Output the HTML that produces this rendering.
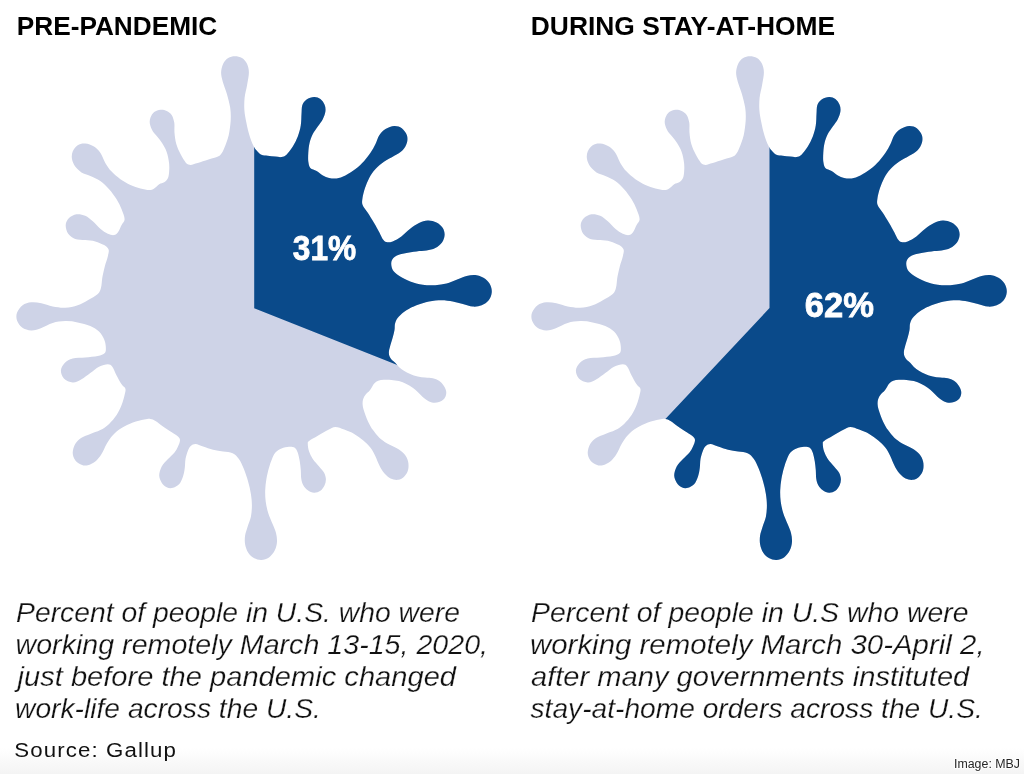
<!DOCTYPE html>
<html><head><meta charset="utf-8"><title>Remote work</title>
<style>
html,body{margin:0;padding:0;background:#fff;}
body{width:1024px;height:774px;overflow:hidden;position:relative;font-family:"Liberation Sans",sans-serif;}
svg{position:absolute;left:0;top:0;display:block}
.t{font-family:"Liberation Sans",sans-serif;font-weight:bold;font-size:25.4px;fill:#000}
.c{font-family:"Liberation Sans",sans-serif;font-style:italic;font-size:27.6px;fill:#111;stroke:#fff;stroke-width:0.25px}
.s{font-family:"Liberation Sans",sans-serif;font-size:20px;fill:#111}
.p{font-family:"Liberation Sans",sans-serif;font-weight:bold;font-size:35.5px;fill:#fff;stroke:#fff;stroke-width:0.8px}
.i{font-family:"Liberation Sans",sans-serif;font-size:12px;fill:#262626}
</style></head><body>
<svg width="1024" height="774" viewBox="0 0 1024 774">
<defs>
<linearGradient id="g" x1="0" y1="0" x2="0" y2="1"><stop offset="0" stop-color="#fff"/><stop offset="1" stop-color="#f4f4f4"/></linearGradient>
<clipPath id="cl"><path d="M234.9 56.3C232.6 56.3 230.1 56.8 228.2 58.1C226.2 59.3 224.3 61.4 223.2 63.8C222.0 66.2 221.2 69.7 221.1 72.6C221.1 75.5 221.7 77.8 222.7 81.4C223.6 84.9 225.7 89.5 226.9 93.9C228.2 98.3 229.5 103.3 230.2 107.7C230.8 112.1 230.9 115.6 230.7 120.2C230.4 124.8 229.7 130.7 228.7 135.3C227.6 139.9 225.7 144.7 224.4 147.8C223.2 151.0 222.4 152.5 221.1 154.1C219.9 155.6 219.5 156.0 216.9 157.1C214.3 158.1 209.2 159.3 205.6 160.4C202.1 161.4 198.1 162.9 195.6 163.6C193.1 164.4 192.1 165.0 190.6 164.9C189.0 164.7 187.7 164.7 186.0 162.9C184.4 161.1 182.2 157.2 180.5 154.1C178.9 151.0 177.3 147.6 176.3 144.1C175.3 140.5 174.8 136.3 174.5 132.8C174.2 129.2 174.7 125.7 174.3 122.7C173.8 119.8 173.0 117.2 171.8 115.2C170.5 113.3 168.6 111.9 166.7 111.0C164.9 110.0 162.6 109.5 160.5 109.7C158.4 109.9 155.9 110.6 154.2 112.0C152.5 113.3 151.2 115.7 150.4 117.7C149.7 119.7 149.5 121.7 149.9 124.0C150.4 126.3 151.4 129.0 152.9 131.5C154.5 134.0 157.1 136.1 159.2 139.0C161.3 142.0 163.9 145.5 165.5 149.1C167.1 152.6 168.1 156.8 168.7 160.4C169.4 163.9 169.4 167.5 169.2 170.4C169.1 173.3 168.8 175.9 168.0 177.9C167.2 179.9 165.7 181.1 164.2 182.2C162.8 183.2 160.9 183.1 159.2 184.2C157.5 185.2 155.9 187.5 154.2 188.4C152.5 189.4 151.5 189.9 149.2 189.9C146.9 189.9 143.5 189.3 140.4 188.4C137.3 187.6 133.7 186.5 130.4 184.9C127.0 183.4 123.5 181.4 120.4 179.2C117.2 176.9 114.1 174.4 111.6 171.6C109.1 168.9 107.2 166.0 105.3 162.9C103.4 159.7 102.2 155.5 100.3 152.8C98.4 150.1 96.5 148.1 94.0 146.6C91.5 145.0 88.0 143.8 85.2 143.6C82.5 143.3 79.8 144.0 77.7 145.3C75.6 146.6 73.7 149.3 72.7 151.6C71.8 153.9 71.5 156.6 72.0 159.1C72.4 161.6 73.6 164.4 75.2 166.6C76.8 168.8 79.0 170.8 81.5 172.4C84.0 173.9 87.1 174.5 90.3 175.9C93.4 177.3 97.2 178.7 100.3 180.9C103.4 183.1 106.4 186.1 109.1 189.2C111.8 192.2 114.5 195.9 116.6 199.2C118.7 202.6 120.3 205.9 121.6 209.2C122.9 212.6 124.6 216.6 124.6 219.3C124.6 221.9 122.7 222.9 121.6 225.1C120.5 227.3 119.1 230.9 117.8 232.6C116.6 234.3 115.8 234.9 114.1 235.1C112.4 235.3 110.1 234.9 107.8 233.8C105.5 232.8 102.8 230.9 100.3 228.8C97.8 226.7 95.3 223.5 92.8 221.3C90.3 219.1 88.0 217.0 85.2 215.8C82.5 214.6 79.2 213.9 76.5 214.3C73.8 214.7 70.7 216.3 69.0 218.1C67.2 219.8 65.8 222.4 65.7 225.1C65.6 227.7 66.6 231.6 68.2 233.8C69.8 236.1 72.4 237.8 75.2 238.9C78.1 239.9 81.9 239.7 85.2 240.1C88.6 240.5 92.1 240.5 95.3 241.4C98.4 242.2 101.8 243.8 104.1 245.1C106.3 246.5 107.9 247.8 108.6 249.6C109.2 251.5 108.4 253.6 107.8 256.4C107.2 259.2 105.7 262.9 104.8 266.4C103.9 270.0 102.9 274.2 102.3 277.7C101.7 281.3 101.8 285.0 101.0 287.8C100.3 290.5 100.0 291.9 97.8 294.0C95.6 296.1 91.1 298.4 87.8 300.3C84.4 302.2 81.5 304.1 77.7 305.3C74.0 306.6 69.4 307.6 65.2 307.8C61.0 308.0 56.6 307.3 52.7 306.6C48.7 305.8 44.9 304.0 41.4 303.3C37.8 302.6 34.5 302.0 31.3 302.3C28.2 302.6 24.9 303.6 22.6 305.3C20.2 307.1 18.0 310.3 17.0 312.8C16.1 315.3 16.2 317.9 17.0 320.4C17.9 322.8 19.7 325.7 22.1 327.4C24.4 329.0 28.1 330.3 31.3 330.4C34.6 330.5 37.8 329.1 41.4 327.9C44.9 326.6 48.7 324.0 52.7 322.9C56.6 321.7 61.0 321.2 65.2 321.1C69.4 321.0 73.5 321.5 77.7 322.4C81.9 323.2 86.7 324.6 90.3 326.1C93.8 327.7 96.7 329.5 99.0 331.6C101.3 333.8 102.9 336.7 104.1 339.2C105.2 341.7 105.7 344.4 105.8 346.7C105.9 349.0 106.1 351.4 104.8 352.9C103.5 354.5 101.0 355.2 97.8 356.0C94.5 356.7 89.4 357.0 85.2 357.5C81.1 357.9 76.1 357.5 72.7 358.5C69.3 359.4 66.7 361.0 64.7 363.0C62.7 365.0 61.1 367.9 60.9 370.5C60.8 373.1 62.0 376.5 63.9 378.5C65.9 380.5 69.8 382.4 72.7 382.5C75.6 382.7 78.6 380.9 81.5 379.3C84.4 377.7 87.3 375.1 90.3 373.0C93.2 370.9 96.1 368.2 99.0 366.7C102.0 365.3 105.6 364.2 107.8 364.2C110.0 364.2 110.9 364.9 112.3 366.7C113.8 368.6 115.0 372.6 116.6 375.5C118.1 378.4 120.1 382.1 121.6 384.3C123.1 386.5 124.9 387.0 125.4 388.8C125.9 390.6 125.2 392.3 124.6 395.0C124.0 397.8 122.9 401.7 121.6 405.1C120.3 408.4 118.7 412.0 116.6 415.1C114.5 418.2 111.8 421.4 109.1 423.9C106.4 426.4 103.4 428.5 100.3 430.1C97.2 431.8 93.4 432.7 90.3 433.9C87.1 435.2 84.0 436.0 81.5 437.7C79.0 439.3 76.7 441.4 75.2 443.9C73.8 446.4 72.7 450.0 72.7 452.7C72.7 455.4 73.8 458.2 75.2 460.2C76.7 462.2 79.4 463.9 81.5 464.7C83.6 465.6 85.5 465.8 87.8 465.2C90.1 464.7 93.0 463.4 95.3 461.5C97.6 459.6 99.7 456.9 101.5 454.0C103.4 451.0 104.7 447.1 106.6 443.9C108.4 440.8 110.3 437.8 112.8 435.2C115.3 432.5 118.3 430.2 121.6 428.1C124.9 426.1 129.1 424.0 132.9 422.6C136.7 421.2 141.2 420.2 144.2 419.6C147.1 419.0 148.6 418.7 150.4 418.9C152.3 419.1 153.4 419.6 155.5 420.9C157.5 422.1 160.3 424.5 163.0 426.4C165.7 428.3 169.2 430.5 171.8 432.2C174.3 433.8 176.6 435.1 178.0 436.4C179.4 437.8 180.0 438.5 180.0 440.2C180.0 441.8 179.0 444.4 178.0 446.4C177.1 448.5 175.9 450.6 174.3 452.7C172.6 454.8 170.1 456.7 168.0 459.0C165.9 461.3 163.2 463.8 161.7 466.5C160.3 469.2 159.2 472.6 159.2 475.3C159.2 478.0 160.5 480.8 161.7 482.8C163.0 484.8 164.9 486.5 166.7 487.3C168.6 488.2 170.9 488.4 173.0 487.8C175.1 487.3 177.6 485.9 179.3 484.1C180.9 482.2 182.1 479.2 183.0 476.5C184.0 473.8 184.4 470.7 184.8 467.8C185.2 464.8 185.0 461.9 185.5 459.0C186.1 456.1 187.1 452.4 188.1 450.2C189.0 448.0 189.8 446.7 191.1 445.7C192.3 444.6 193.6 443.8 195.6 443.9C197.6 444.1 200.2 445.5 203.1 446.4C206.0 447.4 209.8 448.9 213.1 449.7C216.5 450.5 219.9 450.9 223.2 451.5C226.4 452.0 230.0 452.0 232.6 453.2C235.2 454.5 237.0 456.3 238.9 459.0C240.7 461.6 242.3 465.2 243.9 469.0C245.4 472.8 247.0 477.4 248.1 481.5C249.3 485.7 250.3 490.1 250.9 494.1C251.5 498.1 251.9 501.6 251.9 505.4C251.9 509.1 251.6 513.1 250.9 516.7C250.2 520.2 248.6 523.5 247.6 526.7C246.7 529.8 245.6 532.5 245.1 535.5C244.7 538.4 244.6 541.4 245.1 544.2C245.6 547.1 246.7 550.2 248.1 552.5C249.6 554.8 251.7 556.8 253.9 558.0C256.1 559.3 258.9 560.1 261.4 560.0C263.9 559.9 266.7 559.1 269.0 557.5C271.2 555.9 273.4 553.1 274.7 550.5C276.1 547.9 276.8 544.6 277.0 541.7C277.2 538.8 276.7 535.9 276.0 532.9C275.3 530.0 274.0 527.5 272.7 524.2C271.4 520.8 269.4 516.7 268.2 512.9C267.0 509.1 266.2 505.4 265.7 501.6C265.2 497.8 265.1 494.1 265.2 490.3C265.3 486.6 265.8 482.8 266.4 479.0C267.1 475.3 268.0 471.1 269.0 467.8C269.9 464.4 270.9 461.5 272.0 459.0C273.0 456.5 273.6 454.5 275.2 452.7C276.8 451.0 279.2 449.5 281.5 448.5C283.8 447.4 286.8 446.8 289.0 446.7C291.2 446.6 293.3 446.7 294.8 447.7C296.2 448.7 297.0 450.4 297.8 452.7C298.6 455.0 299.3 458.6 299.8 461.5C300.3 464.4 300.5 467.3 300.8 470.3C301.0 473.2 300.9 476.5 301.3 479.0C301.7 481.5 302.2 483.4 303.3 485.3C304.4 487.2 306.0 489.1 307.8 490.3C309.6 491.6 312.0 492.7 314.1 492.8C316.2 492.9 318.6 492.1 320.4 490.8C322.1 489.6 323.7 487.3 324.6 485.3C325.5 483.3 326.0 481.1 325.9 479.0C325.8 477.0 325.2 474.9 324.1 472.8C323.0 470.7 321.0 468.8 319.1 466.5C317.2 464.2 314.5 461.5 312.8 459.0C311.2 456.5 309.9 454.0 309.1 451.5C308.2 449.0 307.8 445.7 307.8 443.9C307.8 442.2 307.4 442.3 309.1 440.9C310.7 439.5 314.7 437.5 317.8 435.7C321.0 433.9 324.9 431.6 327.9 430.1C330.8 428.7 332.7 427.2 335.4 427.1C338.1 427.1 341.0 428.5 344.2 429.6C347.3 430.8 351.1 432.2 354.2 433.9C357.3 435.7 360.3 437.9 363.0 440.2C365.7 442.5 368.4 445.0 370.5 447.7C372.6 450.4 374.1 453.5 375.5 456.5C377.0 459.4 377.8 462.4 379.3 465.2C380.7 468.0 382.4 471.1 384.3 473.3C386.2 475.5 388.3 477.5 390.6 478.5C392.9 479.6 395.8 480.1 398.1 479.8C400.4 479.5 402.7 478.2 404.3 476.5C406.0 474.9 407.5 472.3 408.1 469.8C408.7 467.3 408.7 464.1 408.1 461.5C407.5 458.9 406.2 456.2 404.3 454.0C402.5 451.8 399.8 450.0 396.8 448.2C393.9 446.4 389.7 444.9 386.8 443.2C383.9 441.4 381.6 439.8 379.3 437.7C377.0 435.5 374.9 432.9 373.0 430.1C371.1 427.4 369.5 424.7 368.0 421.4C366.5 418.1 364.7 413.1 363.8 410.2C362.9 407.3 362.7 405.8 362.6 404.0C362.5 402.1 362.7 400.5 363.2 399.0C363.7 397.4 364.7 395.9 365.7 394.6C366.7 393.2 368.4 392.1 369.5 390.8C370.5 389.5 371.1 388.3 372.0 387.0C372.8 385.8 373.4 384.3 374.5 383.3C375.5 382.2 376.7 381.4 378.2 380.8C379.8 380.2 381.7 379.9 383.9 379.8C386.1 379.6 388.9 379.7 391.4 379.9C393.9 380.1 396.4 380.5 398.9 381.1C401.4 381.8 404.1 382.8 406.4 383.9C408.7 385.0 410.8 386.3 412.7 387.7C414.6 389.0 416.1 390.5 417.7 392.1C419.4 393.6 421.1 395.6 422.7 397.1C424.4 398.5 426.0 399.9 427.8 400.8C429.5 401.8 431.5 402.5 433.4 402.7C435.3 402.9 437.4 402.6 439.0 402.1C440.7 401.6 442.3 400.7 443.4 399.6C444.6 398.4 445.5 396.8 445.9 395.2C446.4 393.6 446.4 391.8 445.9 390.2C445.5 388.5 444.6 386.7 443.4 385.2C442.3 383.6 440.8 381.9 439.0 380.8C437.3 379.6 435.1 378.8 432.8 378.3C430.5 377.7 427.8 377.9 425.2 377.6C422.7 377.4 420.2 377.2 417.7 376.6C415.2 376.1 412.5 375.1 410.2 374.1C407.9 373.1 405.8 371.9 403.9 370.7C402.1 369.6 400.4 368.3 398.9 367.0C397.5 365.7 396.3 364.0 395.2 362.8C394.0 361.7 393.0 361.2 392.0 360.1C391.1 359.0 390.0 357.7 389.5 356.3C389.0 355.0 388.8 353.6 388.9 351.9C389.0 350.3 389.5 348.7 390.1 346.3C390.8 343.9 391.9 340.2 392.7 337.5C393.4 334.8 394.1 332.4 394.5 330.0C395.0 327.6 394.4 325.1 395.2 322.9C395.9 320.6 397.0 318.7 398.9 316.6C400.8 314.5 403.5 312.2 406.4 310.3C409.4 308.4 412.7 306.8 416.5 305.3C420.2 303.8 424.8 302.4 429.0 301.5C433.2 300.7 437.6 300.3 441.5 300.3C445.5 300.3 449.3 300.9 452.8 301.5C456.4 302.2 459.5 303.2 462.9 304.1C466.2 304.9 469.8 306.4 472.9 306.6C476.0 306.8 479.0 306.4 481.7 305.3C484.3 304.3 487.0 302.4 488.7 300.3C490.4 298.2 491.4 295.3 491.7 292.8C492.0 290.3 491.5 287.5 490.4 285.2C489.4 283.0 487.7 280.7 485.4 279.0C483.1 277.3 479.8 275.7 476.6 275.2C473.5 274.7 470.0 275.2 466.6 276.0C463.3 276.7 459.9 278.5 456.6 279.7C453.2 281.0 450.1 282.6 446.6 283.5C443.0 284.4 439.2 285.0 435.3 285.2C431.3 285.5 426.9 285.4 422.7 284.7C418.6 284.1 414.0 282.9 410.2 281.5C406.4 280.1 402.9 278.1 400.2 276.5C397.5 274.8 395.4 273.3 393.9 271.5C392.4 269.7 391.7 267.6 391.4 265.7C391.1 263.8 391.1 261.8 391.9 260.2C392.7 258.5 394.2 256.8 396.4 255.7C398.6 254.5 401.8 253.9 405.2 253.2C408.5 252.4 412.9 251.8 416.5 251.4C420.0 251.0 423.4 251.2 426.5 250.6C429.6 250.1 432.7 249.5 435.3 248.1C437.9 246.8 440.5 244.8 442.0 242.6C443.6 240.5 444.4 237.5 444.6 235.1C444.7 232.7 444.1 230.2 442.8 228.1C441.5 226.0 439.0 223.8 436.5 222.6C434.0 221.3 430.7 220.5 427.8 220.6C424.8 220.6 421.9 221.7 419.0 223.1C416.1 224.4 413.1 226.6 410.2 228.8C407.3 231.0 404.4 234.3 401.4 236.4C398.5 238.4 395.2 240.4 392.7 241.4C390.1 242.3 388.1 242.5 386.4 242.1C384.7 241.7 383.8 240.5 382.6 238.9C381.5 237.3 380.8 235.3 379.4 232.6C377.9 229.9 375.8 225.9 373.8 222.6C371.9 219.2 369.5 215.5 367.6 212.5C365.7 209.6 363.4 207.4 362.6 205.0C361.7 202.6 362.1 200.8 362.5 198.0C362.9 195.1 363.9 191.3 365.0 187.9C366.1 184.6 367.5 181.0 369.2 177.9C371.0 174.8 373.0 171.8 375.5 169.1C378.0 166.4 381.2 163.8 384.3 161.6C387.4 159.4 391.3 157.7 394.3 155.8C397.4 154.0 400.5 152.5 402.6 150.3C404.7 148.2 406.1 145.3 406.9 142.8C407.6 140.3 407.7 137.7 406.9 135.3C406.0 132.9 403.9 129.8 401.8 128.3C399.8 126.7 397.0 125.9 394.3 126.0C391.6 126.1 388.1 127.5 385.5 129.0C383.0 130.6 380.9 132.8 379.3 135.3C377.6 137.8 377.0 141.1 375.5 144.1C374.1 147.0 372.4 150.0 370.5 152.8C368.6 155.6 366.7 158.1 364.2 160.9C361.7 163.6 358.6 166.7 355.5 169.1C352.3 171.6 348.6 173.9 345.4 175.4C342.3 176.9 339.4 178.0 336.7 178.4C333.9 178.8 331.4 178.4 329.1 177.9C326.8 177.4 324.9 176.6 322.9 175.4C320.8 174.2 318.7 172.1 316.6 170.9C314.5 169.6 311.7 169.4 310.3 167.9C308.9 166.3 308.7 164.1 308.3 161.6C308.0 159.1 308.1 156.0 308.3 152.8C308.5 149.7 308.8 145.9 309.6 142.8C310.3 139.7 311.5 136.7 312.8 134.0C314.2 131.3 316.2 129.0 317.8 126.5C319.5 124.0 321.6 121.5 322.9 119.0C324.1 116.5 325.1 113.8 325.4 111.5C325.7 109.1 325.5 106.8 324.6 104.7C323.8 102.6 322.1 100.2 320.4 98.9C318.6 97.6 316.4 96.8 314.1 96.9C311.8 97.0 308.5 98.0 306.6 99.4C304.6 100.8 303.1 102.8 302.3 105.2C301.5 107.6 301.8 110.6 301.5 114.0C301.3 117.3 301.4 121.5 300.8 125.2C300.2 129.0 299.1 133.0 297.8 136.5C296.4 140.1 294.7 143.5 292.8 146.6C290.9 149.6 288.4 153.1 286.5 154.8C284.6 156.6 283.4 156.8 281.5 157.1C279.6 157.4 277.5 156.8 275.2 156.6C272.9 156.4 270.0 156.1 267.7 155.8C265.4 155.5 263.3 155.8 261.4 154.8C259.5 153.9 257.8 151.9 256.4 150.3C255.0 148.7 254.3 147.8 253.2 145.3C252.0 142.8 250.5 139.0 249.4 135.3C248.3 131.5 247.2 126.9 246.4 122.7C245.6 118.6 244.7 114.4 244.4 110.2C244.1 106.0 244.2 101.8 244.6 97.7C245.1 93.5 246.4 89.3 247.1 85.1C247.8 81.0 248.9 76.1 248.9 72.6C248.9 69.0 248.1 66.2 247.0 63.8C245.8 61.4 244.0 59.3 242.0 58.1C240.0 56.8 237.2 56.3 234.9 56.3Z"/></clipPath>
<clipPath id="cr"><path d="M749.9 56.3C747.6 56.3 745.1 56.8 743.2 58.1C741.2 59.3 739.3 61.4 738.2 63.8C737.0 66.2 736.2 69.7 736.1 72.6C736.1 75.5 736.7 77.8 737.7 81.4C738.6 84.9 740.7 89.5 741.9 93.9C743.2 98.3 744.5 103.3 745.2 107.7C745.8 112.1 745.9 115.6 745.7 120.2C745.4 124.8 744.7 130.7 743.7 135.3C742.6 139.9 740.7 144.7 739.4 147.8C738.2 151.0 737.4 152.5 736.1 154.1C734.9 155.6 734.5 156.0 731.9 157.1C729.3 158.1 724.2 159.3 720.6 160.4C717.1 161.4 713.1 162.9 710.6 163.6C708.1 164.4 707.1 165.0 705.6 164.9C704.0 164.7 702.7 164.7 701.0 162.9C699.4 161.1 697.2 157.2 695.5 154.1C693.9 151.0 692.3 147.6 691.3 144.1C690.3 140.5 689.8 136.3 689.5 132.8C689.2 129.2 689.7 125.7 689.3 122.7C688.8 119.8 688.0 117.2 686.8 115.2C685.5 113.3 683.6 111.9 681.7 111.0C679.9 110.0 677.6 109.5 675.5 109.7C673.4 109.9 670.9 110.6 669.2 112.0C667.5 113.3 666.2 115.7 665.4 117.7C664.7 119.7 664.5 121.7 664.9 124.0C665.4 126.3 666.4 129.0 667.9 131.5C669.5 134.0 672.1 136.1 674.2 139.0C676.3 142.0 678.9 145.5 680.5 149.1C682.1 152.6 683.1 156.8 683.7 160.4C684.4 163.9 684.4 167.5 684.2 170.4C684.1 173.3 683.8 175.9 683.0 177.9C682.2 179.9 680.7 181.1 679.2 182.2C677.8 183.2 675.9 183.1 674.2 184.2C672.5 185.2 670.9 187.5 669.2 188.4C667.5 189.4 666.5 189.9 664.2 189.9C661.9 189.9 658.5 189.3 655.4 188.4C652.3 187.6 648.7 186.5 645.4 184.9C642.0 183.4 638.5 181.4 635.4 179.2C632.2 176.9 629.1 174.4 626.6 171.6C624.1 168.9 622.2 166.0 620.3 162.9C618.4 159.7 617.2 155.5 615.3 152.8C613.4 150.1 611.5 148.1 609.0 146.6C606.5 145.0 603.0 143.8 600.2 143.6C597.5 143.3 594.8 144.0 592.7 145.3C590.6 146.6 588.7 149.3 587.7 151.6C586.8 153.9 586.5 156.6 587.0 159.1C587.4 161.6 588.6 164.4 590.2 166.6C591.8 168.8 594.0 170.8 596.5 172.4C599.0 173.9 602.1 174.5 605.3 175.9C608.4 177.3 612.2 178.7 615.3 180.9C618.4 183.1 621.4 186.1 624.1 189.2C626.8 192.2 629.5 195.9 631.6 199.2C633.7 202.6 635.3 205.9 636.6 209.2C637.9 212.6 639.6 216.6 639.6 219.3C639.6 221.9 637.7 222.9 636.6 225.1C635.5 227.3 634.1 230.9 632.8 232.6C631.6 234.3 630.8 234.9 629.1 235.1C627.4 235.3 625.1 234.9 622.8 233.8C620.5 232.8 617.8 230.9 615.3 228.8C612.8 226.7 610.3 223.5 607.8 221.3C605.3 219.1 603.0 217.0 600.2 215.8C597.5 214.6 594.2 213.9 591.5 214.3C588.8 214.7 585.7 216.3 584.0 218.1C582.2 219.8 580.8 222.4 580.7 225.1C580.6 227.7 581.6 231.6 583.2 233.8C584.8 236.1 587.4 237.8 590.2 238.9C593.1 239.9 596.9 239.7 600.2 240.1C603.6 240.5 607.1 240.5 610.3 241.4C613.4 242.2 616.8 243.8 619.1 245.1C621.3 246.5 622.9 247.8 623.6 249.6C624.2 251.5 623.4 253.6 622.8 256.4C622.2 259.2 620.7 262.9 619.8 266.4C618.9 270.0 617.9 274.2 617.3 277.7C616.7 281.3 616.8 285.0 616.0 287.8C615.3 290.5 615.0 291.9 612.8 294.0C610.6 296.1 606.1 298.4 602.8 300.3C599.4 302.2 596.5 304.1 592.7 305.3C589.0 306.6 584.4 307.6 580.2 307.8C576.0 308.0 571.6 307.3 567.7 306.6C563.7 305.8 559.9 304.0 556.4 303.3C552.8 302.6 549.5 302.0 546.3 302.3C543.2 302.6 539.9 303.6 537.6 305.3C535.2 307.1 533.0 310.3 532.0 312.8C531.1 315.3 531.2 317.9 532.0 320.4C532.9 322.8 534.7 325.7 537.1 327.4C539.4 329.0 543.1 330.3 546.3 330.4C549.6 330.5 552.8 329.1 556.4 327.9C559.9 326.6 563.7 324.0 567.7 322.9C571.6 321.7 576.0 321.2 580.2 321.1C584.4 321.0 588.5 321.5 592.7 322.4C596.9 323.2 601.7 324.6 605.3 326.1C608.8 327.7 611.7 329.5 614.0 331.6C616.3 333.8 617.9 336.7 619.1 339.2C620.2 341.7 620.7 344.4 620.8 346.7C620.9 349.0 621.1 351.4 619.8 352.9C618.5 354.5 616.0 355.2 612.8 356.0C609.5 356.7 604.4 357.0 600.2 357.5C596.1 357.9 591.1 357.5 587.7 358.5C584.3 359.4 581.7 361.0 579.7 363.0C577.7 365.0 576.1 367.9 575.9 370.5C575.8 373.1 577.0 376.5 578.9 378.5C580.9 380.5 584.8 382.4 587.7 382.5C590.6 382.7 593.6 380.9 596.5 379.3C599.4 377.7 602.3 375.1 605.3 373.0C608.2 370.9 611.1 368.2 614.0 366.7C617.0 365.3 620.6 364.2 622.8 364.2C625.0 364.2 625.9 364.9 627.3 366.7C628.8 368.6 630.0 372.6 631.6 375.5C633.1 378.4 635.1 382.1 636.6 384.3C638.1 386.5 639.9 387.0 640.4 388.8C640.9 390.6 640.2 392.3 639.6 395.0C639.0 397.8 637.9 401.7 636.6 405.1C635.3 408.4 633.7 412.0 631.6 415.1C629.5 418.2 626.8 421.4 624.1 423.9C621.4 426.4 618.4 428.5 615.3 430.1C612.2 431.8 608.4 432.7 605.3 433.9C602.1 435.2 599.0 436.0 596.5 437.7C594.0 439.3 591.7 441.4 590.2 443.9C588.8 446.4 587.7 450.0 587.7 452.7C587.7 455.4 588.8 458.2 590.2 460.2C591.7 462.2 594.4 463.9 596.5 464.7C598.6 465.6 600.5 465.8 602.8 465.2C605.1 464.7 608.0 463.4 610.3 461.5C612.6 459.6 614.7 456.9 616.5 454.0C618.4 451.0 619.7 447.1 621.6 443.9C623.4 440.8 625.3 437.8 627.8 435.2C630.3 432.5 633.3 430.2 636.6 428.1C639.9 426.1 644.1 424.0 647.9 422.6C651.7 421.2 656.2 420.2 659.2 419.6C662.1 419.0 663.6 418.7 665.4 418.9C667.3 419.1 668.4 419.6 670.5 420.9C672.5 422.1 675.3 424.5 678.0 426.4C680.7 428.3 684.2 430.5 686.8 432.2C689.3 433.8 691.6 435.1 693.0 436.4C694.4 437.8 695.0 438.5 695.0 440.2C695.0 441.8 694.0 444.4 693.0 446.4C692.1 448.5 690.9 450.6 689.3 452.7C687.6 454.8 685.1 456.7 683.0 459.0C680.9 461.3 678.2 463.8 676.7 466.5C675.3 469.2 674.2 472.6 674.2 475.3C674.2 478.0 675.5 480.8 676.7 482.8C678.0 484.8 679.9 486.5 681.7 487.3C683.6 488.2 685.9 488.4 688.0 487.8C690.1 487.3 692.6 485.9 694.3 484.1C695.9 482.2 697.1 479.2 698.0 476.5C699.0 473.8 699.4 470.7 699.8 467.8C700.2 464.8 700.0 461.9 700.5 459.0C701.1 456.1 702.1 452.4 703.1 450.2C704.0 448.0 704.8 446.7 706.1 445.7C707.3 444.6 708.6 443.8 710.6 443.9C712.6 444.1 715.2 445.5 718.1 446.4C721.0 447.4 724.8 448.9 728.1 449.7C731.5 450.5 734.9 450.9 738.2 451.5C741.4 452.0 745.0 452.0 747.6 453.2C750.2 454.5 752.0 456.3 753.9 459.0C755.7 461.6 757.3 465.2 758.9 469.0C760.4 472.8 762.0 477.4 763.1 481.5C764.3 485.7 765.3 490.1 765.9 494.1C766.5 498.1 766.9 501.6 766.9 505.4C766.9 509.1 766.6 513.1 765.9 516.7C765.2 520.2 763.6 523.5 762.6 526.7C761.7 529.8 760.6 532.5 760.1 535.5C759.7 538.4 759.6 541.4 760.1 544.2C760.6 547.1 761.7 550.2 763.1 552.5C764.6 554.8 766.7 556.8 768.9 558.0C771.1 559.3 773.9 560.1 776.4 560.0C778.9 559.9 781.7 559.1 784.0 557.5C786.2 555.9 788.4 553.1 789.7 550.5C791.1 547.9 791.8 544.6 792.0 541.7C792.2 538.8 791.7 535.9 791.0 532.9C790.3 530.0 789.0 527.5 787.7 524.2C786.4 520.8 784.4 516.7 783.2 512.9C782.0 509.1 781.2 505.4 780.7 501.6C780.2 497.8 780.1 494.1 780.2 490.3C780.3 486.6 780.8 482.8 781.4 479.0C782.1 475.3 783.0 471.1 784.0 467.8C784.9 464.4 785.9 461.5 787.0 459.0C788.0 456.5 788.6 454.5 790.2 452.7C791.8 451.0 794.2 449.5 796.5 448.5C798.8 447.4 801.8 446.8 804.0 446.7C806.2 446.6 808.3 446.7 809.8 447.7C811.2 448.7 812.0 450.4 812.8 452.7C813.6 455.0 814.3 458.6 814.8 461.5C815.3 464.4 815.5 467.3 815.8 470.3C816.0 473.2 815.9 476.5 816.3 479.0C816.7 481.5 817.2 483.4 818.3 485.3C819.4 487.2 821.0 489.1 822.8 490.3C824.6 491.6 827.0 492.7 829.1 492.8C831.2 492.9 833.6 492.1 835.4 490.8C837.1 489.6 838.7 487.3 839.6 485.3C840.5 483.3 841.0 481.1 840.9 479.0C840.8 477.0 840.2 474.9 839.1 472.8C838.0 470.7 836.0 468.8 834.1 466.5C832.2 464.2 829.5 461.5 827.8 459.0C826.2 456.5 824.9 454.0 824.1 451.5C823.2 449.0 822.8 445.7 822.8 443.9C822.8 442.2 822.4 442.3 824.1 440.9C825.7 439.5 829.7 437.5 832.8 435.7C836.0 433.9 839.9 431.6 842.9 430.1C845.8 428.7 847.7 427.2 850.4 427.1C853.1 427.1 856.0 428.5 859.2 429.6C862.3 430.8 866.1 432.2 869.2 433.9C872.3 435.7 875.3 437.9 878.0 440.2C880.7 442.5 883.4 445.0 885.5 447.7C887.6 450.4 889.1 453.5 890.5 456.5C892.0 459.4 892.8 462.4 894.3 465.2C895.7 468.0 897.4 471.1 899.3 473.3C901.2 475.5 903.3 477.5 905.6 478.5C907.9 479.6 910.8 480.1 913.1 479.8C915.4 479.5 917.7 478.2 919.3 476.5C921.0 474.9 922.5 472.3 923.1 469.8C923.7 467.3 923.7 464.1 923.1 461.5C922.5 458.9 921.2 456.2 919.3 454.0C917.5 451.8 914.8 450.0 911.8 448.2C908.9 446.4 904.7 444.9 901.8 443.2C898.9 441.4 896.6 439.8 894.3 437.7C892.0 435.5 889.9 432.9 888.0 430.1C886.1 427.4 884.5 424.7 883.0 421.4C881.5 418.1 879.7 413.1 878.8 410.2C877.9 407.3 877.7 405.8 877.6 404.0C877.5 402.1 877.7 400.5 878.2 399.0C878.7 397.4 879.7 395.9 880.7 394.6C881.7 393.2 883.4 392.1 884.5 390.8C885.5 389.5 886.1 388.3 887.0 387.0C887.8 385.8 888.4 384.3 889.5 383.3C890.5 382.2 891.7 381.4 893.2 380.8C894.8 380.2 896.7 379.9 898.9 379.8C901.1 379.6 903.9 379.7 906.4 379.9C908.9 380.1 911.4 380.5 913.9 381.1C916.4 381.8 919.1 382.8 921.4 383.9C923.7 385.0 925.8 386.3 927.7 387.7C929.6 389.0 931.1 390.5 932.7 392.1C934.4 393.6 936.1 395.6 937.7 397.1C939.4 398.5 941.0 399.9 942.8 400.8C944.5 401.8 946.5 402.5 948.4 402.7C950.3 402.9 952.4 402.6 954.0 402.1C955.7 401.6 957.3 400.7 958.4 399.6C959.6 398.4 960.5 396.8 960.9 395.2C961.4 393.6 961.4 391.8 960.9 390.2C960.5 388.5 959.6 386.7 958.4 385.2C957.3 383.6 955.8 381.9 954.0 380.8C952.3 379.6 950.1 378.8 947.8 378.3C945.5 377.7 942.8 377.9 940.2 377.6C937.7 377.4 935.2 377.2 932.7 376.6C930.2 376.1 927.5 375.1 925.2 374.1C922.9 373.1 920.8 371.9 918.9 370.7C917.1 369.6 915.4 368.3 913.9 367.0C912.5 365.7 911.3 364.0 910.2 362.8C909.0 361.7 908.0 361.2 907.0 360.1C906.1 359.0 905.0 357.7 904.5 356.3C904.0 355.0 903.8 353.6 903.9 351.9C904.0 350.3 904.5 348.7 905.1 346.3C905.8 343.9 906.9 340.2 907.7 337.5C908.4 334.8 909.1 332.4 909.5 330.0C910.0 327.6 909.4 325.1 910.2 322.9C910.9 320.6 912.0 318.7 913.9 316.6C915.8 314.5 918.5 312.2 921.4 310.3C924.4 308.4 927.7 306.8 931.5 305.3C935.2 303.8 939.8 302.4 944.0 301.5C948.2 300.7 952.6 300.3 956.5 300.3C960.5 300.3 964.3 300.9 967.8 301.5C971.4 302.2 974.5 303.2 977.9 304.1C981.2 304.9 984.8 306.4 987.9 306.6C991.0 306.8 994.0 306.4 996.7 305.3C999.3 304.3 1002.0 302.4 1003.7 300.3C1005.4 298.2 1006.4 295.3 1006.7 292.8C1007.0 290.3 1006.5 287.5 1005.4 285.2C1004.4 283.0 1002.7 280.7 1000.4 279.0C998.1 277.3 994.8 275.7 991.6 275.2C988.5 274.7 985.0 275.2 981.6 276.0C978.3 276.7 974.9 278.5 971.6 279.7C968.2 281.0 965.1 282.6 961.6 283.5C958.0 284.4 954.2 285.0 950.3 285.2C946.3 285.5 941.9 285.4 937.7 284.7C933.6 284.1 929.0 282.9 925.2 281.5C921.4 280.1 917.9 278.1 915.2 276.5C912.5 274.8 910.4 273.3 908.9 271.5C907.4 269.7 906.7 267.6 906.4 265.7C906.1 263.8 906.1 261.8 906.9 260.2C907.7 258.5 909.2 256.8 911.4 255.7C913.6 254.5 916.8 253.9 920.2 253.2C923.5 252.4 927.9 251.8 931.5 251.4C935.0 251.0 938.4 251.2 941.5 250.6C944.6 250.1 947.7 249.5 950.3 248.1C952.9 246.8 955.5 244.8 957.0 242.6C958.6 240.5 959.4 237.5 959.6 235.1C959.7 232.7 959.1 230.2 957.8 228.1C956.5 226.0 954.0 223.8 951.5 222.6C949.0 221.3 945.7 220.5 942.8 220.6C939.8 220.6 936.9 221.7 934.0 223.1C931.1 224.4 928.1 226.6 925.2 228.8C922.3 231.0 919.4 234.3 916.4 236.4C913.5 238.4 910.2 240.4 907.7 241.4C905.1 242.3 903.1 242.5 901.4 242.1C899.7 241.7 898.8 240.5 897.6 238.9C896.5 237.3 895.8 235.3 894.4 232.6C892.9 229.9 890.8 225.9 888.8 222.6C886.9 219.2 884.5 215.5 882.6 212.5C880.7 209.6 878.4 207.4 877.6 205.0C876.7 202.6 877.1 200.8 877.5 198.0C877.9 195.1 878.9 191.3 880.0 187.9C881.1 184.6 882.5 181.0 884.2 177.9C886.0 174.8 888.0 171.8 890.5 169.1C893.0 166.4 896.2 163.8 899.3 161.6C902.4 159.4 906.3 157.7 909.3 155.8C912.4 154.0 915.5 152.5 917.6 150.3C919.7 148.2 921.1 145.3 921.9 142.8C922.6 140.3 922.7 137.7 921.9 135.3C921.0 132.9 918.9 129.8 916.8 128.3C914.8 126.7 912.0 125.9 909.3 126.0C906.6 126.1 903.1 127.5 900.5 129.0C898.0 130.6 895.9 132.8 894.3 135.3C892.6 137.8 892.0 141.1 890.5 144.1C889.1 147.0 887.4 150.0 885.5 152.8C883.6 155.6 881.7 158.1 879.2 160.9C876.7 163.6 873.6 166.7 870.5 169.1C867.3 171.6 863.6 173.9 860.4 175.4C857.3 176.9 854.4 178.0 851.7 178.4C848.9 178.8 846.4 178.4 844.1 177.9C841.8 177.4 839.9 176.6 837.9 175.4C835.8 174.2 833.7 172.1 831.6 170.9C829.5 169.6 826.7 169.4 825.3 167.9C823.9 166.3 823.7 164.1 823.3 161.6C823.0 159.1 823.1 156.0 823.3 152.8C823.5 149.7 823.8 145.9 824.6 142.8C825.3 139.7 826.5 136.7 827.8 134.0C829.2 131.3 831.2 129.0 832.8 126.5C834.5 124.0 836.6 121.5 837.9 119.0C839.1 116.5 840.1 113.8 840.4 111.5C840.7 109.1 840.5 106.8 839.6 104.7C838.8 102.6 837.1 100.2 835.4 98.9C833.6 97.6 831.4 96.8 829.1 96.9C826.8 97.0 823.5 98.0 821.6 99.4C819.6 100.8 818.1 102.8 817.3 105.2C816.5 107.6 816.8 110.6 816.5 114.0C816.3 117.3 816.4 121.5 815.8 125.2C815.2 129.0 814.1 133.0 812.8 136.5C811.4 140.1 809.7 143.5 807.8 146.6C805.9 149.6 803.4 153.1 801.5 154.8C799.6 156.6 798.4 156.8 796.5 157.1C794.6 157.4 792.5 156.8 790.2 156.6C787.9 156.4 785.0 156.1 782.7 155.8C780.4 155.5 778.3 155.8 776.4 154.8C774.5 153.9 772.8 151.9 771.4 150.3C770.0 148.7 769.3 147.8 768.2 145.3C767.0 142.8 765.5 139.0 764.4 135.3C763.3 131.5 762.2 126.9 761.4 122.7C760.6 118.6 759.7 114.4 759.4 110.2C759.1 106.0 759.2 101.8 759.6 97.7C760.1 93.5 761.4 89.3 762.1 85.1C762.8 81.0 763.9 76.1 763.9 72.6C763.9 69.0 763.1 66.2 762.0 63.8C760.8 61.4 759.0 59.3 757.0 58.1C755.0 56.8 752.2 56.3 749.9 56.3Z"/></clipPath>
</defs>
<rect x="0" y="748" width="1024" height="26" fill="url(#g)"/>
<path d="M234.9 56.3C232.6 56.3 230.1 56.8 228.2 58.1C226.2 59.3 224.3 61.4 223.2 63.8C222.0 66.2 221.2 69.7 221.1 72.6C221.1 75.5 221.7 77.8 222.7 81.4C223.6 84.9 225.7 89.5 226.9 93.9C228.2 98.3 229.5 103.3 230.2 107.7C230.8 112.1 230.9 115.6 230.7 120.2C230.4 124.8 229.7 130.7 228.7 135.3C227.6 139.9 225.7 144.7 224.4 147.8C223.2 151.0 222.4 152.5 221.1 154.1C219.9 155.6 219.5 156.0 216.9 157.1C214.3 158.1 209.2 159.3 205.6 160.4C202.1 161.4 198.1 162.9 195.6 163.6C193.1 164.4 192.1 165.0 190.6 164.9C189.0 164.7 187.7 164.7 186.0 162.9C184.4 161.1 182.2 157.2 180.5 154.1C178.9 151.0 177.3 147.6 176.3 144.1C175.3 140.5 174.8 136.3 174.5 132.8C174.2 129.2 174.7 125.7 174.3 122.7C173.8 119.8 173.0 117.2 171.8 115.2C170.5 113.3 168.6 111.9 166.7 111.0C164.9 110.0 162.6 109.5 160.5 109.7C158.4 109.9 155.9 110.6 154.2 112.0C152.5 113.3 151.2 115.7 150.4 117.7C149.7 119.7 149.5 121.7 149.9 124.0C150.4 126.3 151.4 129.0 152.9 131.5C154.5 134.0 157.1 136.1 159.2 139.0C161.3 142.0 163.9 145.5 165.5 149.1C167.1 152.6 168.1 156.8 168.7 160.4C169.4 163.9 169.4 167.5 169.2 170.4C169.1 173.3 168.8 175.9 168.0 177.9C167.2 179.9 165.7 181.1 164.2 182.2C162.8 183.2 160.9 183.1 159.2 184.2C157.5 185.2 155.9 187.5 154.2 188.4C152.5 189.4 151.5 189.9 149.2 189.9C146.9 189.9 143.5 189.3 140.4 188.4C137.3 187.6 133.7 186.5 130.4 184.9C127.0 183.4 123.5 181.4 120.4 179.2C117.2 176.9 114.1 174.4 111.6 171.6C109.1 168.9 107.2 166.0 105.3 162.9C103.4 159.7 102.2 155.5 100.3 152.8C98.4 150.1 96.5 148.1 94.0 146.6C91.5 145.0 88.0 143.8 85.2 143.6C82.5 143.3 79.8 144.0 77.7 145.3C75.6 146.6 73.7 149.3 72.7 151.6C71.8 153.9 71.5 156.6 72.0 159.1C72.4 161.6 73.6 164.4 75.2 166.6C76.8 168.8 79.0 170.8 81.5 172.4C84.0 173.9 87.1 174.5 90.3 175.9C93.4 177.3 97.2 178.7 100.3 180.9C103.4 183.1 106.4 186.1 109.1 189.2C111.8 192.2 114.5 195.9 116.6 199.2C118.7 202.6 120.3 205.9 121.6 209.2C122.9 212.6 124.6 216.6 124.6 219.3C124.6 221.9 122.7 222.9 121.6 225.1C120.5 227.3 119.1 230.9 117.8 232.6C116.6 234.3 115.8 234.9 114.1 235.1C112.4 235.3 110.1 234.9 107.8 233.8C105.5 232.8 102.8 230.9 100.3 228.8C97.8 226.7 95.3 223.5 92.8 221.3C90.3 219.1 88.0 217.0 85.2 215.8C82.5 214.6 79.2 213.9 76.5 214.3C73.8 214.7 70.7 216.3 69.0 218.1C67.2 219.8 65.8 222.4 65.7 225.1C65.6 227.7 66.6 231.6 68.2 233.8C69.8 236.1 72.4 237.8 75.2 238.9C78.1 239.9 81.9 239.7 85.2 240.1C88.6 240.5 92.1 240.5 95.3 241.4C98.4 242.2 101.8 243.8 104.1 245.1C106.3 246.5 107.9 247.8 108.6 249.6C109.2 251.5 108.4 253.6 107.8 256.4C107.2 259.2 105.7 262.9 104.8 266.4C103.9 270.0 102.9 274.2 102.3 277.7C101.7 281.3 101.8 285.0 101.0 287.8C100.3 290.5 100.0 291.9 97.8 294.0C95.6 296.1 91.1 298.4 87.8 300.3C84.4 302.2 81.5 304.1 77.7 305.3C74.0 306.6 69.4 307.6 65.2 307.8C61.0 308.0 56.6 307.3 52.7 306.6C48.7 305.8 44.9 304.0 41.4 303.3C37.8 302.6 34.5 302.0 31.3 302.3C28.2 302.6 24.9 303.6 22.6 305.3C20.2 307.1 18.0 310.3 17.0 312.8C16.1 315.3 16.2 317.9 17.0 320.4C17.9 322.8 19.7 325.7 22.1 327.4C24.4 329.0 28.1 330.3 31.3 330.4C34.6 330.5 37.8 329.1 41.4 327.9C44.9 326.6 48.7 324.0 52.7 322.9C56.6 321.7 61.0 321.2 65.2 321.1C69.4 321.0 73.5 321.5 77.7 322.4C81.9 323.2 86.7 324.6 90.3 326.1C93.8 327.7 96.7 329.5 99.0 331.6C101.3 333.8 102.9 336.7 104.1 339.2C105.2 341.7 105.7 344.4 105.8 346.7C105.9 349.0 106.1 351.4 104.8 352.9C103.5 354.5 101.0 355.2 97.8 356.0C94.5 356.7 89.4 357.0 85.2 357.5C81.1 357.9 76.1 357.5 72.7 358.5C69.3 359.4 66.7 361.0 64.7 363.0C62.7 365.0 61.1 367.9 60.9 370.5C60.8 373.1 62.0 376.5 63.9 378.5C65.9 380.5 69.8 382.4 72.7 382.5C75.6 382.7 78.6 380.9 81.5 379.3C84.4 377.7 87.3 375.1 90.3 373.0C93.2 370.9 96.1 368.2 99.0 366.7C102.0 365.3 105.6 364.2 107.8 364.2C110.0 364.2 110.9 364.9 112.3 366.7C113.8 368.6 115.0 372.6 116.6 375.5C118.1 378.4 120.1 382.1 121.6 384.3C123.1 386.5 124.9 387.0 125.4 388.8C125.9 390.6 125.2 392.3 124.6 395.0C124.0 397.8 122.9 401.7 121.6 405.1C120.3 408.4 118.7 412.0 116.6 415.1C114.5 418.2 111.8 421.4 109.1 423.9C106.4 426.4 103.4 428.5 100.3 430.1C97.2 431.8 93.4 432.7 90.3 433.9C87.1 435.2 84.0 436.0 81.5 437.7C79.0 439.3 76.7 441.4 75.2 443.9C73.8 446.4 72.7 450.0 72.7 452.7C72.7 455.4 73.8 458.2 75.2 460.2C76.7 462.2 79.4 463.9 81.5 464.7C83.6 465.6 85.5 465.8 87.8 465.2C90.1 464.7 93.0 463.4 95.3 461.5C97.6 459.6 99.7 456.9 101.5 454.0C103.4 451.0 104.7 447.1 106.6 443.9C108.4 440.8 110.3 437.8 112.8 435.2C115.3 432.5 118.3 430.2 121.6 428.1C124.9 426.1 129.1 424.0 132.9 422.6C136.7 421.2 141.2 420.2 144.2 419.6C147.1 419.0 148.6 418.7 150.4 418.9C152.3 419.1 153.4 419.6 155.5 420.9C157.5 422.1 160.3 424.5 163.0 426.4C165.7 428.3 169.2 430.5 171.8 432.2C174.3 433.8 176.6 435.1 178.0 436.4C179.4 437.8 180.0 438.5 180.0 440.2C180.0 441.8 179.0 444.4 178.0 446.4C177.1 448.5 175.9 450.6 174.3 452.7C172.6 454.8 170.1 456.7 168.0 459.0C165.9 461.3 163.2 463.8 161.7 466.5C160.3 469.2 159.2 472.6 159.2 475.3C159.2 478.0 160.5 480.8 161.7 482.8C163.0 484.8 164.9 486.5 166.7 487.3C168.6 488.2 170.9 488.4 173.0 487.8C175.1 487.3 177.6 485.9 179.3 484.1C180.9 482.2 182.1 479.2 183.0 476.5C184.0 473.8 184.4 470.7 184.8 467.8C185.2 464.8 185.0 461.9 185.5 459.0C186.1 456.1 187.1 452.4 188.1 450.2C189.0 448.0 189.8 446.7 191.1 445.7C192.3 444.6 193.6 443.8 195.6 443.9C197.6 444.1 200.2 445.5 203.1 446.4C206.0 447.4 209.8 448.9 213.1 449.7C216.5 450.5 219.9 450.9 223.2 451.5C226.4 452.0 230.0 452.0 232.6 453.2C235.2 454.5 237.0 456.3 238.9 459.0C240.7 461.6 242.3 465.2 243.9 469.0C245.4 472.8 247.0 477.4 248.1 481.5C249.3 485.7 250.3 490.1 250.9 494.1C251.5 498.1 251.9 501.6 251.9 505.4C251.9 509.1 251.6 513.1 250.9 516.7C250.2 520.2 248.6 523.5 247.6 526.7C246.7 529.8 245.6 532.5 245.1 535.5C244.7 538.4 244.6 541.4 245.1 544.2C245.6 547.1 246.7 550.2 248.1 552.5C249.6 554.8 251.7 556.8 253.9 558.0C256.1 559.3 258.9 560.1 261.4 560.0C263.9 559.9 266.7 559.1 269.0 557.5C271.2 555.9 273.4 553.1 274.7 550.5C276.1 547.9 276.8 544.6 277.0 541.7C277.2 538.8 276.7 535.9 276.0 532.9C275.3 530.0 274.0 527.5 272.7 524.2C271.4 520.8 269.4 516.7 268.2 512.9C267.0 509.1 266.2 505.4 265.7 501.6C265.2 497.8 265.1 494.1 265.2 490.3C265.3 486.6 265.8 482.8 266.4 479.0C267.1 475.3 268.0 471.1 269.0 467.8C269.9 464.4 270.9 461.5 272.0 459.0C273.0 456.5 273.6 454.5 275.2 452.7C276.8 451.0 279.2 449.5 281.5 448.5C283.8 447.4 286.8 446.8 289.0 446.7C291.2 446.6 293.3 446.7 294.8 447.7C296.2 448.7 297.0 450.4 297.8 452.7C298.6 455.0 299.3 458.6 299.8 461.5C300.3 464.4 300.5 467.3 300.8 470.3C301.0 473.2 300.9 476.5 301.3 479.0C301.7 481.5 302.2 483.4 303.3 485.3C304.4 487.2 306.0 489.1 307.8 490.3C309.6 491.6 312.0 492.7 314.1 492.8C316.2 492.9 318.6 492.1 320.4 490.8C322.1 489.6 323.7 487.3 324.6 485.3C325.5 483.3 326.0 481.1 325.9 479.0C325.8 477.0 325.2 474.9 324.1 472.8C323.0 470.7 321.0 468.8 319.1 466.5C317.2 464.2 314.5 461.5 312.8 459.0C311.2 456.5 309.9 454.0 309.1 451.5C308.2 449.0 307.8 445.7 307.8 443.9C307.8 442.2 307.4 442.3 309.1 440.9C310.7 439.5 314.7 437.5 317.8 435.7C321.0 433.9 324.9 431.6 327.9 430.1C330.8 428.7 332.7 427.2 335.4 427.1C338.1 427.1 341.0 428.5 344.2 429.6C347.3 430.8 351.1 432.2 354.2 433.9C357.3 435.7 360.3 437.9 363.0 440.2C365.7 442.5 368.4 445.0 370.5 447.7C372.6 450.4 374.1 453.5 375.5 456.5C377.0 459.4 377.8 462.4 379.3 465.2C380.7 468.0 382.4 471.1 384.3 473.3C386.2 475.5 388.3 477.5 390.6 478.5C392.9 479.6 395.8 480.1 398.1 479.8C400.4 479.5 402.7 478.2 404.3 476.5C406.0 474.9 407.5 472.3 408.1 469.8C408.7 467.3 408.7 464.1 408.1 461.5C407.5 458.9 406.2 456.2 404.3 454.0C402.5 451.8 399.8 450.0 396.8 448.2C393.9 446.4 389.7 444.9 386.8 443.2C383.9 441.4 381.6 439.8 379.3 437.7C377.0 435.5 374.9 432.9 373.0 430.1C371.1 427.4 369.5 424.7 368.0 421.4C366.5 418.1 364.7 413.1 363.8 410.2C362.9 407.3 362.7 405.8 362.6 404.0C362.5 402.1 362.7 400.5 363.2 399.0C363.7 397.4 364.7 395.9 365.7 394.6C366.7 393.2 368.4 392.1 369.5 390.8C370.5 389.5 371.1 388.3 372.0 387.0C372.8 385.8 373.4 384.3 374.5 383.3C375.5 382.2 376.7 381.4 378.2 380.8C379.8 380.2 381.7 379.9 383.9 379.8C386.1 379.6 388.9 379.7 391.4 379.9C393.9 380.1 396.4 380.5 398.9 381.1C401.4 381.8 404.1 382.8 406.4 383.9C408.7 385.0 410.8 386.3 412.7 387.7C414.6 389.0 416.1 390.5 417.7 392.1C419.4 393.6 421.1 395.6 422.7 397.1C424.4 398.5 426.0 399.9 427.8 400.8C429.5 401.8 431.5 402.5 433.4 402.7C435.3 402.9 437.4 402.6 439.0 402.1C440.7 401.6 442.3 400.7 443.4 399.6C444.6 398.4 445.5 396.8 445.9 395.2C446.4 393.6 446.4 391.8 445.9 390.2C445.5 388.5 444.6 386.7 443.4 385.2C442.3 383.6 440.8 381.9 439.0 380.8C437.3 379.6 435.1 378.8 432.8 378.3C430.5 377.7 427.8 377.9 425.2 377.6C422.7 377.4 420.2 377.2 417.7 376.6C415.2 376.1 412.5 375.1 410.2 374.1C407.9 373.1 405.8 371.9 403.9 370.7C402.1 369.6 400.4 368.3 398.9 367.0C397.5 365.7 396.3 364.0 395.2 362.8C394.0 361.7 393.0 361.2 392.0 360.1C391.1 359.0 390.0 357.7 389.5 356.3C389.0 355.0 388.8 353.6 388.9 351.9C389.0 350.3 389.5 348.7 390.1 346.3C390.8 343.9 391.9 340.2 392.7 337.5C393.4 334.8 394.1 332.4 394.5 330.0C395.0 327.6 394.4 325.1 395.2 322.9C395.9 320.6 397.0 318.7 398.9 316.6C400.8 314.5 403.5 312.2 406.4 310.3C409.4 308.4 412.7 306.8 416.5 305.3C420.2 303.8 424.8 302.4 429.0 301.5C433.2 300.7 437.6 300.3 441.5 300.3C445.5 300.3 449.3 300.9 452.8 301.5C456.4 302.2 459.5 303.2 462.9 304.1C466.2 304.9 469.8 306.4 472.9 306.6C476.0 306.8 479.0 306.4 481.7 305.3C484.3 304.3 487.0 302.4 488.7 300.3C490.4 298.2 491.4 295.3 491.7 292.8C492.0 290.3 491.5 287.5 490.4 285.2C489.4 283.0 487.7 280.7 485.4 279.0C483.1 277.3 479.8 275.7 476.6 275.2C473.5 274.7 470.0 275.2 466.6 276.0C463.3 276.7 459.9 278.5 456.6 279.7C453.2 281.0 450.1 282.6 446.6 283.5C443.0 284.4 439.2 285.0 435.3 285.2C431.3 285.5 426.9 285.4 422.7 284.7C418.6 284.1 414.0 282.9 410.2 281.5C406.4 280.1 402.9 278.1 400.2 276.5C397.5 274.8 395.4 273.3 393.9 271.5C392.4 269.7 391.7 267.6 391.4 265.7C391.1 263.8 391.1 261.8 391.9 260.2C392.7 258.5 394.2 256.8 396.4 255.7C398.6 254.5 401.8 253.9 405.2 253.2C408.5 252.4 412.9 251.8 416.5 251.4C420.0 251.0 423.4 251.2 426.5 250.6C429.6 250.1 432.7 249.5 435.3 248.1C437.9 246.8 440.5 244.8 442.0 242.6C443.6 240.5 444.4 237.5 444.6 235.1C444.7 232.7 444.1 230.2 442.8 228.1C441.5 226.0 439.0 223.8 436.5 222.6C434.0 221.3 430.7 220.5 427.8 220.6C424.8 220.6 421.9 221.7 419.0 223.1C416.1 224.4 413.1 226.6 410.2 228.8C407.3 231.0 404.4 234.3 401.4 236.4C398.5 238.4 395.2 240.4 392.7 241.4C390.1 242.3 388.1 242.5 386.4 242.1C384.7 241.7 383.8 240.5 382.6 238.9C381.5 237.3 380.8 235.3 379.4 232.6C377.9 229.9 375.8 225.9 373.8 222.6C371.9 219.2 369.5 215.5 367.6 212.5C365.7 209.6 363.4 207.4 362.6 205.0C361.7 202.6 362.1 200.8 362.5 198.0C362.9 195.1 363.9 191.3 365.0 187.9C366.1 184.6 367.5 181.0 369.2 177.9C371.0 174.8 373.0 171.8 375.5 169.1C378.0 166.4 381.2 163.8 384.3 161.6C387.4 159.4 391.3 157.7 394.3 155.8C397.4 154.0 400.5 152.5 402.6 150.3C404.7 148.2 406.1 145.3 406.9 142.8C407.6 140.3 407.7 137.7 406.9 135.3C406.0 132.9 403.9 129.8 401.8 128.3C399.8 126.7 397.0 125.9 394.3 126.0C391.6 126.1 388.1 127.5 385.5 129.0C383.0 130.6 380.9 132.8 379.3 135.3C377.6 137.8 377.0 141.1 375.5 144.1C374.1 147.0 372.4 150.0 370.5 152.8C368.6 155.6 366.7 158.1 364.2 160.9C361.7 163.6 358.6 166.7 355.5 169.1C352.3 171.6 348.6 173.9 345.4 175.4C342.3 176.9 339.4 178.0 336.7 178.4C333.9 178.8 331.4 178.4 329.1 177.9C326.8 177.4 324.9 176.6 322.9 175.4C320.8 174.2 318.7 172.1 316.6 170.9C314.5 169.6 311.7 169.4 310.3 167.9C308.9 166.3 308.7 164.1 308.3 161.6C308.0 159.1 308.1 156.0 308.3 152.8C308.5 149.7 308.8 145.9 309.6 142.8C310.3 139.7 311.5 136.7 312.8 134.0C314.2 131.3 316.2 129.0 317.8 126.5C319.5 124.0 321.6 121.5 322.9 119.0C324.1 116.5 325.1 113.8 325.4 111.5C325.7 109.1 325.5 106.8 324.6 104.7C323.8 102.6 322.1 100.2 320.4 98.9C318.6 97.6 316.4 96.8 314.1 96.9C311.8 97.0 308.5 98.0 306.6 99.4C304.6 100.8 303.1 102.8 302.3 105.2C301.5 107.6 301.8 110.6 301.5 114.0C301.3 117.3 301.4 121.5 300.8 125.2C300.2 129.0 299.1 133.0 297.8 136.5C296.4 140.1 294.7 143.5 292.8 146.6C290.9 149.6 288.4 153.1 286.5 154.8C284.6 156.6 283.4 156.8 281.5 157.1C279.6 157.4 277.5 156.8 275.2 156.6C272.9 156.4 270.0 156.1 267.7 155.8C265.4 155.5 263.3 155.8 261.4 154.8C259.5 153.9 257.8 151.9 256.4 150.3C255.0 148.7 254.3 147.8 253.2 145.3C252.0 142.8 250.5 139.0 249.4 135.3C248.3 131.5 247.2 126.9 246.4 122.7C245.6 118.6 244.7 114.4 244.4 110.2C244.1 106.0 244.2 101.8 244.6 97.7C245.1 93.5 246.4 89.3 247.1 85.1C247.8 81.0 248.9 76.1 248.9 72.6C248.9 69.0 248.1 66.2 247.0 63.8C245.8 61.4 244.0 59.3 242.0 58.1C240.0 56.8 237.2 56.3 234.9 56.3Z" fill="#ced3e7"/>
<polygon clip-path="url(#cl)" points="254.2,308.2 254.2,-91.8 408.9,-271.5 553.2,-212.0 677.2,-117.3 772.6,6.1 833.0,150.0 854.2,304.6 834.8,459.4 407.1,348.0 401.1,366.4" fill="#0a4a8a"/>
<path d="M749.9 56.3C747.6 56.3 745.1 56.8 743.2 58.1C741.2 59.3 739.3 61.4 738.2 63.8C737.0 66.2 736.2 69.7 736.1 72.6C736.1 75.5 736.7 77.8 737.7 81.4C738.6 84.9 740.7 89.5 741.9 93.9C743.2 98.3 744.5 103.3 745.2 107.7C745.8 112.1 745.9 115.6 745.7 120.2C745.4 124.8 744.7 130.7 743.7 135.3C742.6 139.9 740.7 144.7 739.4 147.8C738.2 151.0 737.4 152.5 736.1 154.1C734.9 155.6 734.5 156.0 731.9 157.1C729.3 158.1 724.2 159.3 720.6 160.4C717.1 161.4 713.1 162.9 710.6 163.6C708.1 164.4 707.1 165.0 705.6 164.9C704.0 164.7 702.7 164.7 701.0 162.9C699.4 161.1 697.2 157.2 695.5 154.1C693.9 151.0 692.3 147.6 691.3 144.1C690.3 140.5 689.8 136.3 689.5 132.8C689.2 129.2 689.7 125.7 689.3 122.7C688.8 119.8 688.0 117.2 686.8 115.2C685.5 113.3 683.6 111.9 681.7 111.0C679.9 110.0 677.6 109.5 675.5 109.7C673.4 109.9 670.9 110.6 669.2 112.0C667.5 113.3 666.2 115.7 665.4 117.7C664.7 119.7 664.5 121.7 664.9 124.0C665.4 126.3 666.4 129.0 667.9 131.5C669.5 134.0 672.1 136.1 674.2 139.0C676.3 142.0 678.9 145.5 680.5 149.1C682.1 152.6 683.1 156.8 683.7 160.4C684.4 163.9 684.4 167.5 684.2 170.4C684.1 173.3 683.8 175.9 683.0 177.9C682.2 179.9 680.7 181.1 679.2 182.2C677.8 183.2 675.9 183.1 674.2 184.2C672.5 185.2 670.9 187.5 669.2 188.4C667.5 189.4 666.5 189.9 664.2 189.9C661.9 189.9 658.5 189.3 655.4 188.4C652.3 187.6 648.7 186.5 645.4 184.9C642.0 183.4 638.5 181.4 635.4 179.2C632.2 176.9 629.1 174.4 626.6 171.6C624.1 168.9 622.2 166.0 620.3 162.9C618.4 159.7 617.2 155.5 615.3 152.8C613.4 150.1 611.5 148.1 609.0 146.6C606.5 145.0 603.0 143.8 600.2 143.6C597.5 143.3 594.8 144.0 592.7 145.3C590.6 146.6 588.7 149.3 587.7 151.6C586.8 153.9 586.5 156.6 587.0 159.1C587.4 161.6 588.6 164.4 590.2 166.6C591.8 168.8 594.0 170.8 596.5 172.4C599.0 173.9 602.1 174.5 605.3 175.9C608.4 177.3 612.2 178.7 615.3 180.9C618.4 183.1 621.4 186.1 624.1 189.2C626.8 192.2 629.5 195.9 631.6 199.2C633.7 202.6 635.3 205.9 636.6 209.2C637.9 212.6 639.6 216.6 639.6 219.3C639.6 221.9 637.7 222.9 636.6 225.1C635.5 227.3 634.1 230.9 632.8 232.6C631.6 234.3 630.8 234.9 629.1 235.1C627.4 235.3 625.1 234.9 622.8 233.8C620.5 232.8 617.8 230.9 615.3 228.8C612.8 226.7 610.3 223.5 607.8 221.3C605.3 219.1 603.0 217.0 600.2 215.8C597.5 214.6 594.2 213.9 591.5 214.3C588.8 214.7 585.7 216.3 584.0 218.1C582.2 219.8 580.8 222.4 580.7 225.1C580.6 227.7 581.6 231.6 583.2 233.8C584.8 236.1 587.4 237.8 590.2 238.9C593.1 239.9 596.9 239.7 600.2 240.1C603.6 240.5 607.1 240.5 610.3 241.4C613.4 242.2 616.8 243.8 619.1 245.1C621.3 246.5 622.9 247.8 623.6 249.6C624.2 251.5 623.4 253.6 622.8 256.4C622.2 259.2 620.7 262.9 619.8 266.4C618.9 270.0 617.9 274.2 617.3 277.7C616.7 281.3 616.8 285.0 616.0 287.8C615.3 290.5 615.0 291.9 612.8 294.0C610.6 296.1 606.1 298.4 602.8 300.3C599.4 302.2 596.5 304.1 592.7 305.3C589.0 306.6 584.4 307.6 580.2 307.8C576.0 308.0 571.6 307.3 567.7 306.6C563.7 305.8 559.9 304.0 556.4 303.3C552.8 302.6 549.5 302.0 546.3 302.3C543.2 302.6 539.9 303.6 537.6 305.3C535.2 307.1 533.0 310.3 532.0 312.8C531.1 315.3 531.2 317.9 532.0 320.4C532.9 322.8 534.7 325.7 537.1 327.4C539.4 329.0 543.1 330.3 546.3 330.4C549.6 330.5 552.8 329.1 556.4 327.9C559.9 326.6 563.7 324.0 567.7 322.9C571.6 321.7 576.0 321.2 580.2 321.1C584.4 321.0 588.5 321.5 592.7 322.4C596.9 323.2 601.7 324.6 605.3 326.1C608.8 327.7 611.7 329.5 614.0 331.6C616.3 333.8 617.9 336.7 619.1 339.2C620.2 341.7 620.7 344.4 620.8 346.7C620.9 349.0 621.1 351.4 619.8 352.9C618.5 354.5 616.0 355.2 612.8 356.0C609.5 356.7 604.4 357.0 600.2 357.5C596.1 357.9 591.1 357.5 587.7 358.5C584.3 359.4 581.7 361.0 579.7 363.0C577.7 365.0 576.1 367.9 575.9 370.5C575.8 373.1 577.0 376.5 578.9 378.5C580.9 380.5 584.8 382.4 587.7 382.5C590.6 382.7 593.6 380.9 596.5 379.3C599.4 377.7 602.3 375.1 605.3 373.0C608.2 370.9 611.1 368.2 614.0 366.7C617.0 365.3 620.6 364.2 622.8 364.2C625.0 364.2 625.9 364.9 627.3 366.7C628.8 368.6 630.0 372.6 631.6 375.5C633.1 378.4 635.1 382.1 636.6 384.3C638.1 386.5 639.9 387.0 640.4 388.8C640.9 390.6 640.2 392.3 639.6 395.0C639.0 397.8 637.9 401.7 636.6 405.1C635.3 408.4 633.7 412.0 631.6 415.1C629.5 418.2 626.8 421.4 624.1 423.9C621.4 426.4 618.4 428.5 615.3 430.1C612.2 431.8 608.4 432.7 605.3 433.9C602.1 435.2 599.0 436.0 596.5 437.7C594.0 439.3 591.7 441.4 590.2 443.9C588.8 446.4 587.7 450.0 587.7 452.7C587.7 455.4 588.8 458.2 590.2 460.2C591.7 462.2 594.4 463.9 596.5 464.7C598.6 465.6 600.5 465.8 602.8 465.2C605.1 464.7 608.0 463.4 610.3 461.5C612.6 459.6 614.7 456.9 616.5 454.0C618.4 451.0 619.7 447.1 621.6 443.9C623.4 440.8 625.3 437.8 627.8 435.2C630.3 432.5 633.3 430.2 636.6 428.1C639.9 426.1 644.1 424.0 647.9 422.6C651.7 421.2 656.2 420.2 659.2 419.6C662.1 419.0 663.6 418.7 665.4 418.9C667.3 419.1 668.4 419.6 670.5 420.9C672.5 422.1 675.3 424.5 678.0 426.4C680.7 428.3 684.2 430.5 686.8 432.2C689.3 433.8 691.6 435.1 693.0 436.4C694.4 437.8 695.0 438.5 695.0 440.2C695.0 441.8 694.0 444.4 693.0 446.4C692.1 448.5 690.9 450.6 689.3 452.7C687.6 454.8 685.1 456.7 683.0 459.0C680.9 461.3 678.2 463.8 676.7 466.5C675.3 469.2 674.2 472.6 674.2 475.3C674.2 478.0 675.5 480.8 676.7 482.8C678.0 484.8 679.9 486.5 681.7 487.3C683.6 488.2 685.9 488.4 688.0 487.8C690.1 487.3 692.6 485.9 694.3 484.1C695.9 482.2 697.1 479.2 698.0 476.5C699.0 473.8 699.4 470.7 699.8 467.8C700.2 464.8 700.0 461.9 700.5 459.0C701.1 456.1 702.1 452.4 703.1 450.2C704.0 448.0 704.8 446.7 706.1 445.7C707.3 444.6 708.6 443.8 710.6 443.9C712.6 444.1 715.2 445.5 718.1 446.4C721.0 447.4 724.8 448.9 728.1 449.7C731.5 450.5 734.9 450.9 738.2 451.5C741.4 452.0 745.0 452.0 747.6 453.2C750.2 454.5 752.0 456.3 753.9 459.0C755.7 461.6 757.3 465.2 758.9 469.0C760.4 472.8 762.0 477.4 763.1 481.5C764.3 485.7 765.3 490.1 765.9 494.1C766.5 498.1 766.9 501.6 766.9 505.4C766.9 509.1 766.6 513.1 765.9 516.7C765.2 520.2 763.6 523.5 762.6 526.7C761.7 529.8 760.6 532.5 760.1 535.5C759.7 538.4 759.6 541.4 760.1 544.2C760.6 547.1 761.7 550.2 763.1 552.5C764.6 554.8 766.7 556.8 768.9 558.0C771.1 559.3 773.9 560.1 776.4 560.0C778.9 559.9 781.7 559.1 784.0 557.5C786.2 555.9 788.4 553.1 789.7 550.5C791.1 547.9 791.8 544.6 792.0 541.7C792.2 538.8 791.7 535.9 791.0 532.9C790.3 530.0 789.0 527.5 787.7 524.2C786.4 520.8 784.4 516.7 783.2 512.9C782.0 509.1 781.2 505.4 780.7 501.6C780.2 497.8 780.1 494.1 780.2 490.3C780.3 486.6 780.8 482.8 781.4 479.0C782.1 475.3 783.0 471.1 784.0 467.8C784.9 464.4 785.9 461.5 787.0 459.0C788.0 456.5 788.6 454.5 790.2 452.7C791.8 451.0 794.2 449.5 796.5 448.5C798.8 447.4 801.8 446.8 804.0 446.7C806.2 446.6 808.3 446.7 809.8 447.7C811.2 448.7 812.0 450.4 812.8 452.7C813.6 455.0 814.3 458.6 814.8 461.5C815.3 464.4 815.5 467.3 815.8 470.3C816.0 473.2 815.9 476.5 816.3 479.0C816.7 481.5 817.2 483.4 818.3 485.3C819.4 487.2 821.0 489.1 822.8 490.3C824.6 491.6 827.0 492.7 829.1 492.8C831.2 492.9 833.6 492.1 835.4 490.8C837.1 489.6 838.7 487.3 839.6 485.3C840.5 483.3 841.0 481.1 840.9 479.0C840.8 477.0 840.2 474.9 839.1 472.8C838.0 470.7 836.0 468.8 834.1 466.5C832.2 464.2 829.5 461.5 827.8 459.0C826.2 456.5 824.9 454.0 824.1 451.5C823.2 449.0 822.8 445.7 822.8 443.9C822.8 442.2 822.4 442.3 824.1 440.9C825.7 439.5 829.7 437.5 832.8 435.7C836.0 433.9 839.9 431.6 842.9 430.1C845.8 428.7 847.7 427.2 850.4 427.1C853.1 427.1 856.0 428.5 859.2 429.6C862.3 430.8 866.1 432.2 869.2 433.9C872.3 435.7 875.3 437.9 878.0 440.2C880.7 442.5 883.4 445.0 885.5 447.7C887.6 450.4 889.1 453.5 890.5 456.5C892.0 459.4 892.8 462.4 894.3 465.2C895.7 468.0 897.4 471.1 899.3 473.3C901.2 475.5 903.3 477.5 905.6 478.5C907.9 479.6 910.8 480.1 913.1 479.8C915.4 479.5 917.7 478.2 919.3 476.5C921.0 474.9 922.5 472.3 923.1 469.8C923.7 467.3 923.7 464.1 923.1 461.5C922.5 458.9 921.2 456.2 919.3 454.0C917.5 451.8 914.8 450.0 911.8 448.2C908.9 446.4 904.7 444.9 901.8 443.2C898.9 441.4 896.6 439.8 894.3 437.7C892.0 435.5 889.9 432.9 888.0 430.1C886.1 427.4 884.5 424.7 883.0 421.4C881.5 418.1 879.7 413.1 878.8 410.2C877.9 407.3 877.7 405.8 877.6 404.0C877.5 402.1 877.7 400.5 878.2 399.0C878.7 397.4 879.7 395.9 880.7 394.6C881.7 393.2 883.4 392.1 884.5 390.8C885.5 389.5 886.1 388.3 887.0 387.0C887.8 385.8 888.4 384.3 889.5 383.3C890.5 382.2 891.7 381.4 893.2 380.8C894.8 380.2 896.7 379.9 898.9 379.8C901.1 379.6 903.9 379.7 906.4 379.9C908.9 380.1 911.4 380.5 913.9 381.1C916.4 381.8 919.1 382.8 921.4 383.9C923.7 385.0 925.8 386.3 927.7 387.7C929.6 389.0 931.1 390.5 932.7 392.1C934.4 393.6 936.1 395.6 937.7 397.1C939.4 398.5 941.0 399.9 942.8 400.8C944.5 401.8 946.5 402.5 948.4 402.7C950.3 402.9 952.4 402.6 954.0 402.1C955.7 401.6 957.3 400.7 958.4 399.6C959.6 398.4 960.5 396.8 960.9 395.2C961.4 393.6 961.4 391.8 960.9 390.2C960.5 388.5 959.6 386.7 958.4 385.2C957.3 383.6 955.8 381.9 954.0 380.8C952.3 379.6 950.1 378.8 947.8 378.3C945.5 377.7 942.8 377.9 940.2 377.6C937.7 377.4 935.2 377.2 932.7 376.6C930.2 376.1 927.5 375.1 925.2 374.1C922.9 373.1 920.8 371.9 918.9 370.7C917.1 369.6 915.4 368.3 913.9 367.0C912.5 365.7 911.3 364.0 910.2 362.8C909.0 361.7 908.0 361.2 907.0 360.1C906.1 359.0 905.0 357.7 904.5 356.3C904.0 355.0 903.8 353.6 903.9 351.9C904.0 350.3 904.5 348.7 905.1 346.3C905.8 343.9 906.9 340.2 907.7 337.5C908.4 334.8 909.1 332.4 909.5 330.0C910.0 327.6 909.4 325.1 910.2 322.9C910.9 320.6 912.0 318.7 913.9 316.6C915.8 314.5 918.5 312.2 921.4 310.3C924.4 308.4 927.7 306.8 931.5 305.3C935.2 303.8 939.8 302.4 944.0 301.5C948.2 300.7 952.6 300.3 956.5 300.3C960.5 300.3 964.3 300.9 967.8 301.5C971.4 302.2 974.5 303.2 977.9 304.1C981.2 304.9 984.8 306.4 987.9 306.6C991.0 306.8 994.0 306.4 996.7 305.3C999.3 304.3 1002.0 302.4 1003.7 300.3C1005.4 298.2 1006.4 295.3 1006.7 292.8C1007.0 290.3 1006.5 287.5 1005.4 285.2C1004.4 283.0 1002.7 280.7 1000.4 279.0C998.1 277.3 994.8 275.7 991.6 275.2C988.5 274.7 985.0 275.2 981.6 276.0C978.3 276.7 974.9 278.5 971.6 279.7C968.2 281.0 965.1 282.6 961.6 283.5C958.0 284.4 954.2 285.0 950.3 285.2C946.3 285.5 941.9 285.4 937.7 284.7C933.6 284.1 929.0 282.9 925.2 281.5C921.4 280.1 917.9 278.1 915.2 276.5C912.5 274.8 910.4 273.3 908.9 271.5C907.4 269.7 906.7 267.6 906.4 265.7C906.1 263.8 906.1 261.8 906.9 260.2C907.7 258.5 909.2 256.8 911.4 255.7C913.6 254.5 916.8 253.9 920.2 253.2C923.5 252.4 927.9 251.8 931.5 251.4C935.0 251.0 938.4 251.2 941.5 250.6C944.6 250.1 947.7 249.5 950.3 248.1C952.9 246.8 955.5 244.8 957.0 242.6C958.6 240.5 959.4 237.5 959.6 235.1C959.7 232.7 959.1 230.2 957.8 228.1C956.5 226.0 954.0 223.8 951.5 222.6C949.0 221.3 945.7 220.5 942.8 220.6C939.8 220.6 936.9 221.7 934.0 223.1C931.1 224.4 928.1 226.6 925.2 228.8C922.3 231.0 919.4 234.3 916.4 236.4C913.5 238.4 910.2 240.4 907.7 241.4C905.1 242.3 903.1 242.5 901.4 242.1C899.7 241.7 898.8 240.5 897.6 238.9C896.5 237.3 895.8 235.3 894.4 232.6C892.9 229.9 890.8 225.9 888.8 222.6C886.9 219.2 884.5 215.5 882.6 212.5C880.7 209.6 878.4 207.4 877.6 205.0C876.7 202.6 877.1 200.8 877.5 198.0C877.9 195.1 878.9 191.3 880.0 187.9C881.1 184.6 882.5 181.0 884.2 177.9C886.0 174.8 888.0 171.8 890.5 169.1C893.0 166.4 896.2 163.8 899.3 161.6C902.4 159.4 906.3 157.7 909.3 155.8C912.4 154.0 915.5 152.5 917.6 150.3C919.7 148.2 921.1 145.3 921.9 142.8C922.6 140.3 922.7 137.7 921.9 135.3C921.0 132.9 918.9 129.8 916.8 128.3C914.8 126.7 912.0 125.9 909.3 126.0C906.6 126.1 903.1 127.5 900.5 129.0C898.0 130.6 895.9 132.8 894.3 135.3C892.6 137.8 892.0 141.1 890.5 144.1C889.1 147.0 887.4 150.0 885.5 152.8C883.6 155.6 881.7 158.1 879.2 160.9C876.7 163.6 873.6 166.7 870.5 169.1C867.3 171.6 863.6 173.9 860.4 175.4C857.3 176.9 854.4 178.0 851.7 178.4C848.9 178.8 846.4 178.4 844.1 177.9C841.8 177.4 839.9 176.6 837.9 175.4C835.8 174.2 833.7 172.1 831.6 170.9C829.5 169.6 826.7 169.4 825.3 167.9C823.9 166.3 823.7 164.1 823.3 161.6C823.0 159.1 823.1 156.0 823.3 152.8C823.5 149.7 823.8 145.9 824.6 142.8C825.3 139.7 826.5 136.7 827.8 134.0C829.2 131.3 831.2 129.0 832.8 126.5C834.5 124.0 836.6 121.5 837.9 119.0C839.1 116.5 840.1 113.8 840.4 111.5C840.7 109.1 840.5 106.8 839.6 104.7C838.8 102.6 837.1 100.2 835.4 98.9C833.6 97.6 831.4 96.8 829.1 96.9C826.8 97.0 823.5 98.0 821.6 99.4C819.6 100.8 818.1 102.8 817.3 105.2C816.5 107.6 816.8 110.6 816.5 114.0C816.3 117.3 816.4 121.5 815.8 125.2C815.2 129.0 814.1 133.0 812.8 136.5C811.4 140.1 809.7 143.5 807.8 146.6C805.9 149.6 803.4 153.1 801.5 154.8C799.6 156.6 798.4 156.8 796.5 157.1C794.6 157.4 792.5 156.8 790.2 156.6C787.9 156.4 785.0 156.1 782.7 155.8C780.4 155.5 778.3 155.8 776.4 154.8C774.5 153.9 772.8 151.9 771.4 150.3C770.0 148.7 769.3 147.8 768.2 145.3C767.0 142.8 765.5 139.0 764.4 135.3C763.3 131.5 762.2 126.9 761.4 122.7C760.6 118.6 759.7 114.4 759.4 110.2C759.1 106.0 759.2 101.8 759.6 97.7C760.1 93.5 761.4 89.3 762.1 85.1C762.8 81.0 763.9 76.1 763.9 72.6C763.9 69.0 763.1 66.2 762.0 63.8C760.8 61.4 759.0 59.3 757.0 58.1C755.0 56.8 752.2 56.3 749.9 56.3Z" fill="#ced3e7"/>
<polygon clip-path="url(#cr)" points="769.5,308.1 769.5,-91.9 923.6,-271.8 1067.3,-212.8 1191.1,-118.8 1286.6,3.8 1347.4,146.7 1369.5,300.6 1351.3,454.9 1294.1,599.4 1201.7,724.3 1080.3,821.3 938.1,883.9 784.6,907.9 630.0,891.7 484.9,836.3 358.8,745.5" fill="#0a4a8a"/>
<text class="t" x="16.75" y="35" textLength="200.55" lengthAdjust="spacingAndGlyphs" >PRE-PANDEMIC</text>
<text class="t" x="530.80" y="35" textLength="304.33" lengthAdjust="spacingAndGlyphs" >DURING STAY-AT-HOME</text>
<text class="p" x="292.80" y="260" textLength="63.33" lengthAdjust="spacingAndGlyphs" >31%</text>
<text class="p" x="804.80" y="317" textLength="69.17" lengthAdjust="spacingAndGlyphs" >62%</text>
<text class="c" x="16.00" y="622" textLength="444.01" lengthAdjust="spacingAndGlyphs" >Percent of people in U.S. who were</text>
<text class="c" x="15.50" y="654" textLength="472.57" lengthAdjust="spacingAndGlyphs" >working remotely March 13-15, 2020,</text>
<text class="c" x="17.50" y="686" textLength="438.54" lengthAdjust="spacingAndGlyphs" >just before the pandemic changed</text>
<text class="c" x="15.00" y="718.3" textLength="305.85" lengthAdjust="spacingAndGlyphs" >work-life across the U.S.</text>
<text class="s" x="14.25" y="757" textLength="162.85" lengthAdjust="spacingAndGlyphs" letter-spacing="1">Source: Gallup</text>
<text class="c" x="531.00" y="622" textLength="437.52" lengthAdjust="spacingAndGlyphs" >Percent of people in U.S who were</text>
<text class="c" x="530.00" y="654" textLength="454.58" lengthAdjust="spacingAndGlyphs" >working remotely March 30-April 2,</text>
<text class="c" x="531.00" y="686" textLength="438.26" lengthAdjust="spacingAndGlyphs" >after many governments instituted</text>
<text class="c" x="530.50" y="718.3" textLength="452.30" lengthAdjust="spacingAndGlyphs" >stay-at-home orders across the U.S.</text>
<text class="i" x="954" y="768" textLength="66" lengthAdjust="spacingAndGlyphs" stroke="#fff" stroke-width="2" stroke-opacity="0.7" paint-order="stroke">Image: MBJ</text>
</svg>
</body></html>
